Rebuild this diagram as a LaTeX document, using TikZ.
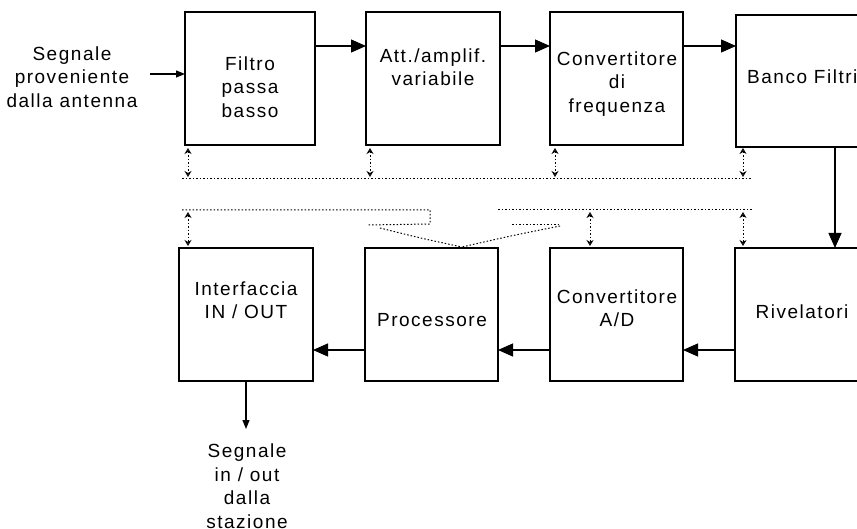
\documentclass[tikz,border=0pt]{standalone}
\usepackage{fontspec}
\setmainfont{Liberation Sans}[LetterSpace=8]
\usetikzlibrary{arrows.meta,calc}
\begin{document}
\begin{tikzpicture}[x=1pt,y=-1pt,
  box/.style={draw, line width=1.3pt, inner sep=0pt, outer sep=0pt, anchor=north west},
  txt/.style={align=center, font=\fontsize{19}{23.5}\selectfont, inner sep=0pt},
  arr/.style={line width=1.2pt, -{Triangle[length=15pt,width=13pt]}},
  sarr/.style={line width=1.2pt, -{Triangle[length=9pt,width=7pt]}},
  bus/.style={line width=1pt, dash pattern=on 1.5pt off 2pt},
  vb/.style={bus, {Stealth[open,length=6pt,width=7pt]}-{Stealth[open,length=6pt,width=7pt]}},
]
\useasboundingbox (0,0) rectangle (857,529);
% boxes
\node[box, minimum width=130pt, minimum height=133pt] (filtro) at (185,12) {};
\node[box, minimum width=134pt, minimum height=133pt] (att) at (366,12) {};
\node[box, minimum width=133pt, minimum height=133pt] (conv) at (550,12) {};
\node[box, minimum width=133pt, minimum height=132pt] (banco) at (736,15) {};
\node[box, minimum width=134pt, minimum height=133pt] (inter) at (179,248) {};
\node[box, minimum width=133pt, minimum height=133pt] (proc) at (365,248) {};
\node[box, minimum width=133pt, minimum height=133pt] (ad) at (550,248) {};
\node[box, minimum width=134pt, minimum height=133pt] (riv) at (735,248) {};
% texts
\node[txt] (tsrc) at (72,77) {Segnale\\proveniente\\dalla antenna};
\node[txt] (tfiltro) at (250,87) {Filtro\\passa\\basso};
\node[txt] (tatt) at (433,67) {Att./amplif.\\variabile};
\node[txt] (tconv) at (617,84) {Convertitore\\di\\frequenza};
\node[txt, anchor=west] (tbanco) at (747,77) {Banco Filtri};
\node[txt] (tinter) at (246,300) {Interfaccia\\IN / OUT};
\node[txt] (tproc) at (432,320) {Processore};
\node[txt] (tad) at (617,308) {Convertitore\\A/D};
\node[txt] (triv) at (802,312) {Rivelatori};
\node[txt] (tout) at (247,486) {Segnale\\in / out\\dalla\\stazione};
% arrows
\coordinate (yt) at (0,46);
\coordinate (yb) at (0,350);
\coordinate (inA) at (150,74);
\coordinate (xd) at (835,0);
\coordinate (yo) at (0,429);
\draw[sarr] (inA) -- (filtro.west |- inA);
\draw[arr] (filtro.east |- yt) -- (att.west |- yt);
\draw[arr] (att.east |- yt) -- (conv.west |- yt);
\draw[arr] (conv.east |- yt) -- (banco.west |- yt);
\draw[arr] (banco.south -| xd) -- (riv.north -| xd);
\draw[arr] (riv.west |- yb) -- (ad.east |- yb);
\draw[arr] (ad.west |- yb) -- (proc.east |- yb);
\draw[arr] (proc.west |- yb) -- (inter.east |- yb);
\draw[sarr] (inter.south) -- (inter.south |- yo);
% dotted bus
\draw[bus] (182,179) -- (752,179);
\draw[vb] (188,148) -- (188,177);
\draw[vb] (370,148) -- (370,177);
\draw[vb] (555,148) -- (555,177);
\draw[vb] (743,148) -- (743,177);
\draw[bus] (182,210) -- (430,210) -- (430,224) -- (367,225);
\draw[bus] (498,210) -- (752,210);
\draw[bus] (512,225) -- (560,225);
\draw[bus] (380,228) .. controls (420,238) .. (462,247);
\draw[bus] (560,226) .. controls (510,236) .. (462,247);
\draw[vb] (188,212) -- (188,246);
\draw[vb] (590,212) -- (590,246);
\draw[vb] (743,212) -- (743,246);
\end{tikzpicture}
\end{document}
